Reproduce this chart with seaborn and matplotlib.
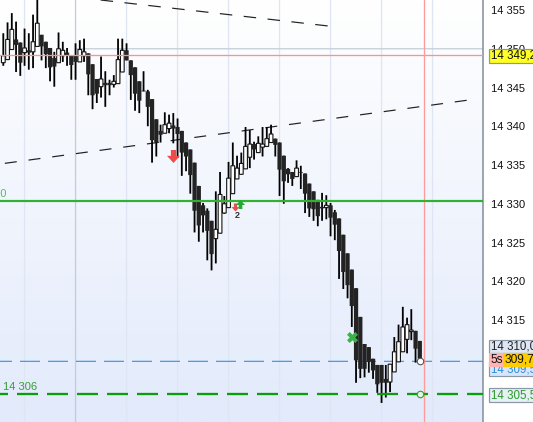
import numpy as np
import pandas as pd
import matplotlib
matplotlib.use("Agg")
import matplotlib.pyplot as plt
from matplotlib.patches import Rectangle
from matplotlib.path import Path
from matplotlib.colors import LinearSegmentedColormap
import seaborn as sns

BASE = 14000
opens = [348.2,348.6,349.9,351.2,350.8,349.5,349.8,349.6,350.3,351.8,350.9,350.1,348.8,348.2,349.1,349.5,349.1,349.1,348.3,349.1,
         349.4,348.0,346.1,345.1,345.6,345.6,345.4,345.5,347.0,349.8,348.5,347.6,345.8,344.6,344.5,343.5,340.9,339.4,339.1,339.7,
         340.1,339.9,339.4,337.9,337.0,335.3,332.3,329.8,329.1,327.8,325.5,326.2,328.8,329.5,331.3,333.2,333.8,334.5,336.0,337.7,
         336.6,337.3,337.4,337.9,338.4,337.9,336.2,334.5,334.1,333.5,334.1,333.9,332.6,331.6,330.5,329.6,329.5,329.8,328.9,328.1,
         326.0,323.6,321.5,319.1,315.4,311.9,311.5,310.0,309.2,309.2,307.4,307.0,308.3,309.6,310.9,312.5,313.5,313.6,312.3]
highs = [352.0,353.4,354.6,353.5,350.8,352.6,352.0,354.4,356.3,351.8,350.9,350.1,349.6,352.1,350.9,350.1,349.1,350.7,351.1,351.3,
         349.4,348.0,346.1,349.0,347.1,346.0,346.6,351.3,351.3,350.7,348.5,347.6,345.8,347.1,344.7,343.5,340.9,340.2,341.8,341.5,
         341.7,341.0,339.4,337.9,337.0,335.3,332.3,330.1,329.4,327.8,331.6,334.1,331.0,335.4,337.9,336.2,336.6,339.9,339.5,338.0,
         338.7,339.9,339.9,340.2,338.4,337.9,336.2,334.6,334.1,335.6,334.9,333.9,332.6,331.6,330.5,331.4,331.1,330.1,329.2,328.1,
         326.0,323.6,321.5,319.1,315.4,311.9,311.5,310.0,309.2,309.2,309.2,309.3,312.8,314.4,316.7,315.3,316.4,313.6,312.3]
lows = [347.8,348.6,349.9,347.0,346.5,347.8,347.3,347.5,350.3,348.5,347.5,345.8,345.1,348.2,348.3,347.8,346.0,346.0,348.3,348.3,
        344.0,342.2,343.0,343.7,342.5,344.0,345.0,345.5,347.0,348.5,343.4,342.0,341.7,344.5,340.0,335.3,336.1,337.9,339.1,339.1,
        337.8,335.9,333.6,334.2,331.3,326.3,325.1,326.3,322.7,321.4,322.3,326.2,328.7,329.5,331.3,333.2,333.8,334.5,334.6,335.7,
        336.6,336.1,337.4,337.9,336.1,331.0,330.0,332.7,332.3,333.5,331.9,328.8,328.3,327.8,327.1,327.8,328.0,325.8,325.3,320.3,
        319.0,317.8,314.1,306.9,307.5,307.6,308.2,307.4,305.6,304.3,305.0,305.7,308.3,309.6,310.9,310.7,312.4,309.5,309.3]
closes = [349.1,351.2,352.5,350.5,348.2,350.1,349.5,350.9,353.3,350.3,349.3,347.6,347.7,350.0,349.8,349.1,347.9,348.3,349.9,349.6,
          346.7,344.0,344.2,346.1,345.3,345.3,345.8,348.6,349.8,348.5,346.6,344.2,343.3,344.5,342.5,338.2,337.9,338.9,340.2,340.4,
          339.7,339.0,336.6,336.1,333.7,329.1,327.2,328.5,326.5,323.5,326.7,331.2,330.0,333.3,334.9,334.6,335.2,337.4,337.7,337.0,
          337.8,337.7,338.4,339.0,337.6,334.4,332.9,333.8,333.2,334.6,334.0,331.3,329.4,329.3,328.4,329.4,329.8,328.2,327.3,323.9,
          321.2,319.5,316.8,309.8,308.7,308.7,309.6,308.5,306.7,306.9,306.9,309.3,310.9,312.2,314.1,314.4,313.7,311.3,310.0]

tick_prices = [14355, 14350, 14345, 14340, 14335, 14330, 14325, 14320, 14315, 14310]
tick_labels = ["14 355", "14 350", "14 345", "14 340", "14 335", "14 330", "14 325", "14 320", "14 315", "14 310"]
grid_bars = [5, 17, 29, 41, 53, 65, 77, 89, 101]
last_price = 14349.25
current_price = 14309.67
support_level = 14330.35
target_level = 14305.5
major_grid_price = 14350
trend_a_x, trend_a_y = [22.9, 76.4], [14356.29, 14352.94]
trend_b_x, trend_b_y = [-0.78, 109.6], [14335.13, 14343.39]

W, H = 533, 422
DPI = 100
px = 72 / DPI  # one pixel in points

sns.set_theme(style="white")
plt.rcParams["font.family"] = ["Liberation Sans", "DejaVu Sans"]
plt.rcParams["lines.scale_dashes"] = False

fig = plt.figure(figsize=(W / DPI, H / DPI), dpi=DPI, facecolor="white")
ax = fig.add_axes([0, 0, 483 / W, 1])

cmap = LinearSegmentedColormap.from_list("bg", ["#ffffff", "#e2eafb"])
ax.imshow(np.linspace(0, 1, 256).reshape(-1, 1), cmap=cmap, aspect="auto",
          extent=(0, 1, 0, 1), transform=ax.transAxes, zorder=0)

df = pd.DataFrame({"i": np.arange(len(opens)),
                   "open": np.array(opens) + BASE, "high": np.array(highs) + BASE,
                   "low": np.array(lows) + BASE, "close": np.array(closes) + BASE})

# grid
for b in grid_bars:
    ax.axvline(b, color="#c3cbdc" if b == 17 else "#dfe5f2", lw=1.3 * px, zorder=1)
ax.plot([17, 113], [major_grid_price] * 2, color="#c4cfdb", lw=1.3 * px, zorder=1)

# reference dashed lines under the candles
ax.plot(trend_a_x, trend_a_y, color="#222222", lw=1.2 * px, zorder=2,
        ls=(0, (12.5 * px, 11.5 * px)))
ax.plot(trend_b_x, trend_b_y, color="#222222", lw=1.2 * px, zorder=2,
        ls=(19 * px, (12 * px, 11.9 * px)))
ax.axhline(current_price, color="#2a93e2", lw=1.1 * px, zorder=2,
           ls=(8 * px, (20 * px, 8 * px)))

# wicks
wicks = df.melt(id_vars="i", value_vars=["high", "low"], value_name="price")
sns.lineplot(data=wicks, x="i", y="price", units="i", estimator=None, color="black",
             lw=1.8 * px, solid_capstyle="butt", ax=ax, zorder=3, legend=False)
for ln in ax.get_lines():
    ln.set_snap(False)

# bodies
up = df[df.close >= df.open]
dn = df[df.close < df.open]
dn_bars = ax.bar(dn.i, (dn.open - dn.close), bottom=dn.close, width=1.0, color="#232323",
                 edgecolor="none", zorder=4)
up_bars = ax.bar(up.i, (up.close - up.open), bottom=up.open, width=0.88, color="#fdfdfd",
                 edgecolor="#111111", linewidth=1.1 * px, zorder=4)
for p in list(dn_bars) + list(up_bars):
    p.set_snap(False)

# level lines above candles
ax.axhline(last_price, color="#ff9090", lw=1.3 * px, zorder=5)
ax.axvline(99, color="#ff9a9a", lw=1.3 * px, zorder=5)
ax.axhline(support_level, color="#32b032", lw=2.2 * px, zorder=5)
ax.axhline(target_level, color="#0a9e0a", lw=2.3 * px, zorder=5,
           ls=(13 * px, (21 * px, 9 * px)))

# signals
down_arrow = Path([(-.2, .5), (.2, .5), (.2, .05), (.5, .05), (0, -.5), (-.5, .05), (-.2, .05), (-.2, .5)])
up_arrow = Path(down_arrow.vertices * [1, -1])
ax.scatter([40], [14336.2], marker=down_arrow, s=(13 * px) ** 2, color="#ee4b4b", lw=0, zorder=6)
ax.scatter([54.4], [14329.6], marker=down_arrow, s=(8 * px) ** 2, color="#ee4b4b", lw=0, zorder=6)
ax.scatter([55.8], [14330.0], marker=up_arrow, s=(9 * px) ** 2, color="#22aa33", lw=0, zorder=6)
ax.scatter([82], [14312.8], marker="X", s=(11 * px) ** 2, color="#35b545", lw=0, zorder=6)
ax.scatter([98], [current_price], s=(6.5 * px) ** 2, facecolor="white", edgecolor="#555555",
           linewidth=1.1 * px, zorder=6)
ax.scatter([98], [target_level], s=(6.5 * px) ** 2, facecolor="#e8f3ea", edgecolor="#2fa02f",
           linewidth=1.1 * px, zorder=6)
ax.text(55, 14328.5, "2", fontsize=6.5, color="#333333", ha="center", va="center", zorder=6, fontweight="bold")
ax.text(0.8, 14331.2, "14 330", fontsize=7.8, color="#55bb55", ha="right", va="center", zorder=6, clip_on=True)
ax.text(-0.05, 14306.35, "14 306", fontsize=8, color="#33a033", ha="left", va="center", zorder=6, clip_on=True)

# axes
ax.set_xlim(-0.776, 112.87)
ax.set_ylim(14355 - (422 - 10) / 7.75, 14355 + 10 / 7.75)
ax.set_xlabel("")
ax.set_ylabel("")
ax.set_xticks([])
ax.yaxis.tick_right()
ax.set_yticks(tick_prices + [current_price, target_level],
              tick_labels + ["", ""])
ax.tick_params(axis="y", length=5 * px, width=1.1 * px, color="#7f8c99", pad=2.6 * px,
               labelsize=8, labelcolor="#111111", right=True)
ticks = ax.yaxis.get_major_ticks()
for t in ticks[-3:-1]:
    t.tick2line.set_color("#000000")
sns.despine(ax=ax, left=True, top=True, bottom=True, right=False)
ax.spines["right"].set_color("#7f8c99")
ax.spines["right"].set_linewidth(1.5 * px)


def box(x0, y0, x1, y1, fc, ec="#8a97a5", z=2):
    fig.add_artist(Rectangle((x0 / W, 1 - y1 / H), (x1 - x0) / W, (y1 - y0) / H,
                             transform=fig.transFigure, facecolor=fc, edgecolor=ec,
                             linewidth=1.2 * px, zorder=z))


def label(x, y, s, color="#111111", z=3, size=8):
    fig.text(x / W, 1 - y / H, s, color=color, fontsize=size, ha="left", va="center", zorder=z)


box(488.5, 49, 545, 63, "#ffff22", z=4)
label(491, 56, "14 349,25", z=5, size=8.3)
box(488.5, 340, 545, 353, "#dfe7f5", z=2)
label(491, 346.5, "14 310,00", color="#222222", z=2.1, size=8.3)
box(488.5, 362, 545, 375.5, "#d9e5fb", z=2.2)
label(491, 369, "14 309,50", color="#2a8fe0", z=2.3, size=8.3)
box(488.5, 353, 503, 366, "#ffb3b3", ec="#ffb3b3", z=4)
label(490.5, 359.8, "5s", z=5, size=8.6)
box(503, 353, 545, 366, "#ffcc00", ec="#ffcc00", z=4)
label(505, 359.8, "309,75", z=5, size=8.6)
box(488.5, 388, 545, 402, "#e6f0f5", z=2)
label(491, 395, "14 305,50", color="#2a9a2a", z=3, size=8.3)

fig.savefig("out.png", dpi=DPI)
